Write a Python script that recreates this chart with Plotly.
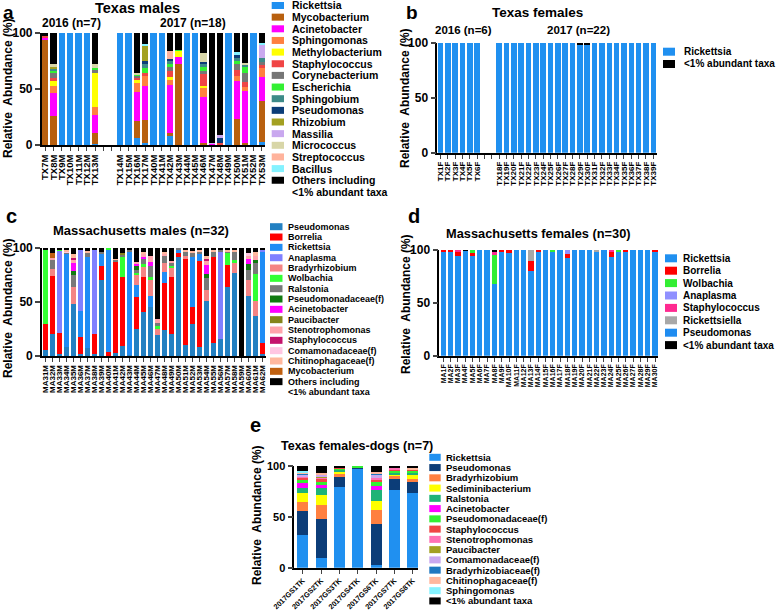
import plotly.graph_objects as go

W, H = 778, 612
FONT = "Liberation Sans, Arial, Helvetica, sans-serif"


def px(x):
    return x / W


def py(y):
    return 1 - y / H


# ---------------- Panel a : Texas males ----------------
a_samples = ["TX7M", "TX8M", "TX9M", "TX10M", "TX11M", "TX12M", "TX13M", "gap1", "gap2",
             "TX14M", "TX15M", "TX16M", "TX17M", "TX40M", "TX41M", "TX42M", "TX43M", "TX44M",
             "TX45M", "TX46M", "TX47M", "TX48M", "TX49M", "TX50M", "TX51M", "TX52M", "TX53M"]
a_rickettsia = [0, 0, 100, 100, 100, 100, 1, 0, 0, 100, 100, 6, 2, 100, 100, 8, 0, 100, 100, 0, 0, 0, 100, 0, 0, 100, 3]
a_mycobacterium = [94, 26, 0, 0, 0, 0, 10, 0, 0, 0, 0, 15, 20, 0, 0, 3, 72, 0, 0, 2, 0, 0, 0, 23, 2, 0, 36]
a_acinetobacter = [2, 20, 0, 0, 0, 0, 16, 0, 0, 0, 0, 26, 31, 0, 0, 43, 7, 0, 0, 41, 1, 0, 0, 34, 46, 0, 22]
a_sphingomonas = [0, 7, 0, 0, 0, 0, 7, 0, 0, 0, 0, 8, 9, 0, 0, 4, 0, 0, 0, 8, 0, 0, 0, 5, 4, 0, 8]
a_methylobacterium = [0, 4, 0, 0, 0, 0, 30, 0, 0, 0, 0, 3, 0, 0, 0, 3, 5, 0, 0, 2, 0, 0, 0, 0, 0, 0, 0]
a_staphylococcus = [1, 3, 0, 0, 0, 0, 0, 0, 0, 0, 0, 2, 2, 0, 0, 5, 0, 0, 0, 10, 0, 2, 0, 5, 4, 0, 2]
a_corynebacterium = [0, 4, 0, 0, 0, 0, 3, 0, 0, 0, 0, 2, 0, 0, 0, 4, 0, 0, 0, 3, 0, 0, 0, 5, 8, 0, 3]
a_escherichia = [0, 2, 0, 0, 0, 0, 2, 0, 0, 0, 0, 1, 5, 0, 0, 2, 1, 0, 0, 4, 0, 0, 0, 3, 6, 0, 0]
a_sphingobium = [0, 2, 0, 0, 0, 0, 0, 0, 0, 0, 0, 0, 3, 0, 0, 3, 0, 0, 0, 2, 0, 0, 0, 3, 2, 0, 4]
a_pseudomonas = [0, 0, 0, 0, 0, 0, 0, 0, 0, 0, 0, 0, 3, 0, 0, 2, 0, 0, 0, 2, 0, 4, 0, 2, 0, 0, 0]
a_rhizobium = [0, 2, 0, 0, 0, 0, 0, 0, 0, 0, 0, 0, 14, 0, 0, 0, 0, 0, 0, 0, 0, 0, 0, 0, 0, 0, 0]
a_massilia = [0, 0, 0, 0, 0, 0, 0, 0, 0, 0, 0, 0, 0, 0, 0, 0, 0, 0, 0, 0, 1, 3, 0, 0, 0, 0, 11]
a_micrococcus = [0, 2, 0, 0, 0, 0, 3, 0, 0, 0, 0, 1, 0, 0, 0, 0, 0, 0, 0, 8, 0, 0, 0, 0, 1, 0, 0]
a_streptococcus = [0, 0, 0, 0, 0, 0, 0, 0, 0, 0, 0, 0, 0, 0, 0, 7, 0, 0, 0, 0, 0, 0, 0, 0, 0, 0, 0]
a_bacillus = [0, 0, 0, 0, 0, 0, 0, 0, 0, 0, 0, 0, 1, 0, 0, 0, 0, 0, 0, 0, 0, 0, 0, 3, 0, 0, 2]
a_others = [3, 28, 0, 0, 0, 0, 28, 0, 0, 0, 0, 36, 10, 0, 0, 16, 15, 0, 0, 18, 98, 91, 0, 17, 27, 0, 9]
a_names = ["Rickettsia", "Mycobacterium", "Acinetobacter", "Sphingomonas", "Methylobacterium",
           "Staphylococcus", "Corynebacterium", "Escherichia", "Sphingobium", "Pseudomonas",
           "Rhizobium", "Massilia", "Micrococcus", "Streptococcus", "Bacillus",
           "Others including<br>&lt;1% abundant taxa"]
a_values = [a_rickettsia, a_mycobacterium, a_acinetobacter, a_sphingomonas, a_methylobacterium,
            a_staphylococcus, a_corynebacterium, a_escherichia, a_sphingobium, a_pseudomonas,
            a_rhizobium, a_massilia, a_micrococcus, a_streptococcus, a_bacillus, a_others]
a_colors = ["#2090f0", "#b8600f", "#ff00ff", "#ff8040", "#ffff00", "#f04545", "#767676",
            "#33f033", "#3d8a88", "#0c3d78", "#a3a021", "#c9a8ef", "#d8d6a8", "#ffb39c",
            "#84f2ff", "#000000"]

# ---------------- Panel b : Texas females ----------------
b_samples = ["TX1F", "TX2F", "TX3F", "TX4F", "TX5F", "TX6F", "gap3", "gap4",
             "TX18F", "TX19F", "TX20F", "TX21F", "TX22F", "TX23F", "TX24F", "TX25F", "TX26F",
             "TX27F", "TX28F", "TX29F", "TX30F", "TX31F", "TX32F", "TX33F", "TX34F", "TX35F",
             "TX36F", "TX37F", "TX38F", "TX39F"]
b_rickettsia = [100, 100, 100, 100, 100, 100, 0, 0, 100, 100, 100, 100, 100, 100, 100, 100, 100,
                100, 100, 99, 99, 100, 100, 100, 100, 100, 100, 100, 100, 100]
b_lowabundant = [0, 0, 0, 0, 0, 0, 0, 0, 0, 0, 0, 0, 0, 0, 0, 0, 0,
                 0, 0, 1, 1, 0, 0, 0, 0, 0, 0, 0, 0, 0]
b_names = ["Rickettsia", "&lt;1% abundant taxa"]
b_values = [b_rickettsia, b_lowabundant]
b_colors = ["#2090f0", "#000000"]

# ---------------- Panel c : Massachusetts males ----------------
c_samples = ["MA31M", "MA32M", "MA33M", "MA34M", "MA35M", "MA36M", "MA37M", "MA38M", "MA39M",
             "MA40M", "MA41M", "MA42M", "MA43M", "MA44M", "MA45M", "MA46M", "MA47M", "MA48M",
             "MA49M", "MA50M", "MA51M", "MA52M", "MA53M", "MA54M", "MA55M", "MA56M", "MA57M",
             "MA58M", "MA59M", "MA60M", "MA61M", "MA62M"]
c_pseudomonas = [6, 20, 2, 8, 48, 2, 7, 2, 70, 0, 3, 9, 1, 25, 41, 45, 19, 24, 20, 92, 10, 30, 8, 51, 12, 16, 64, 77, 0, 56, 37, 2]
c_borrelia = [24, 54, 19, 0, 0, 16, 0, 18, 13, 4, 84, 64, 0, 30, 32, 0, 0, 44, 53, 3, 80, 15, 80, 0, 80, 0, 20, 0, 0, 0, 0, 10]
c_rickettsia = [0, 0, 0, 86, 0, 24, 85, 0, 11, 95, 0, 0, 96, 11, 0, 11, 0, 10, 0, 3, 0, 47, 6, 0, 0, 0, 0, 0, 0, 0, 0, 84]
c_anaplasma = [0, 0, 77, 0, 0, 56, 0, 78, 0, 0, 0, 0, 0, 0, 0, 0, 0, 0, 0, 0, 0, 0, 0, 0, 0, 80, 0, 0, 0, 0, 0, 3]
c_bradyrhizobium = [0, 7, 0, 0, 16, 0, 0, 0, 0, 0, 0, 0, 0, 9, 9, 14, 6, 8, 9, 0, 3, 0, 0, 10, 0, 0, 0, 9, 0, 14, 14, 0]
c_wolbachia = [68, 0, 1, 0, 0, 0, 0, 0, 0, 1, 0, 19, 0, 2, 3, 3, 3, 0, 1, 0, 0, 0, 0, 0, 0, 0, 11, 3, 0, 0, 25, 0]
c_ralstonia = [0, 8, 0, 2, 11, 0, 3, 0, 2, 0, 2, 2, 1, 3, 5, 10, 3, 7, 4, 2, 3, 4, 3, 11, 4, 2, 2, 7, 0, 10, 10, 0]
c_pseudomonadaceae = [0, 0, 0, 0, 4, 0, 0, 0, 0, 0, 0, 0, 0, 3, 0, 0, 0, 0, 0, 0, 0, 0, 0, 4, 0, 0, 0, 0, 0, 5, 3, 0]
c_acinetobacter = [0, 0, 0, 0, 7, 0, 0, 0, 0, 0, 0, 0, 0, 2, 2, 4, 0, 0, 0, 0, 0, 0, 0, 8, 0, 0, 0, 0, 0, 5, 0, 0]
c_paucibacter = [0, 0, 0, 0, 0, 0, 0, 0, 0, 0, 0, 1, 0, 0, 0, 0, 0, 0, 0, 0, 0, 0, 0, 0, 0, 0, 0, 0, 0, 0, 0, 0]
c_stenotrophomonas = [0, 2, 0, 0, 3, 0, 0, 0, 0, 0, 0, 0, 0, 2, 2, 6, 3, 2, 1, 0, 0, 0, 0, 4, 0, 0, 0, 0, 0, 3, 4, 0]
c_staphylococcus = [0, 0, 0, 0, 2, 0, 0, 0, 0, 0, 0, 0, 0, 0, 0, 0, 0, 0, 0, 0, 0, 0, 0, 2, 0, 0, 0, 0, 0, 0, 0, 0]
c_comamonadaceae = [0, 0, 0, 1, 0, 0, 0, 0, 0, 0, 0, 0, 0, 0, 0, 0, 0, 0, 0, 0, 0, 0, 0, 0, 0, 0, 0, 0, 0, 2, 0, 0]
c_chitinophagaceae = [0, 0, 0, 1, 3, 0, 2, 0, 0, 0, 1, 0, 0, 0, 2, 0, 0, 1, 0, 0, 2, 1, 1, 3, 3, 0, 1, 2, 0, 0, 3, 0]
c_mycobacterium = [0, 4, 0, 0, 0, 0, 0, 0, 0, 0, 0, 0, 0, 0, 0, 0, 0, 0, 0, 0, 0, 0, 0, 0, 0, 0, 0, 0, 0, 0, 0, 0]
c_others = [2, 5, 1, 2, 6, 2, 3, 2, 4, 0, 10, 5, 2, 13, 4, 7, 66, 4, 12, 0, 2, 3, 2, 7, 1, 2, 2, 2, 100, 5, 4, 1]
c_names = ["Pseudomonas", "Borrelia", "Rickettsia", "Anaplasma", "Bradyrhizobium", "Wolbachia",
           "Ralstonia", "Pseudomonadaceae(f)", "Acinetobacter", "Paucibacter", "Stenotrophomonas",
           "Staphylococcus", "Comamonadaceae(f)", "Chitinophagaceae(f)", "Mycobacterium",
           "Others including<br>&lt;1% abundant taxa"]
c_values = [c_pseudomonas, c_borrelia, c_rickettsia, c_anaplasma, c_bradyrhizobium, c_wolbachia,
            c_ralstonia, c_pseudomonadaceae, c_acinetobacter, c_paucibacter, c_stenotrophomonas,
            c_staphylococcus, c_comamonadaceae, c_chitinophagaceae, c_mycobacterium, c_others]
c_colors = ["#2380c2", "#ff0000", "#1f8cf5", "#8080ff", "#f48484", "#33ff33", "#787878",
            "#107a10", "#ff00ff", "#85851a", "#ffa5ab", "#c4136c", "#ffc6e2", "#ffb89e",
            "#c0600f", "#000000"]

# ---------------- Panel d : Massachusetts females ----------------
d_samples = ["MA1F", "MA2F", "MA3F", "MA4F", "MA5F", "MA6F", "MA7F", "MA8F", "MA9F", "MA10F",
             "MA11F", "MA12F", "MA13F", "MA14F", "MA15F", "MA16F", "MA17F", "MA18F", "MA19F",
             "MA20F", "MA21F", "MA22F", "MA23F", "MA24F", "MA25F", "MA26F", "MA27F", "MA28F",
             "MA29F", "MA30F"]
d_rickettsia = [98.5, 98, 94, 99.5, 94, 100, 100, 68, 98, 97.5, 100, 100, 80, 99, 100, 98, 100, 92,
                100, 100, 100, 98, 100, 93, 99, 98, 100, 100, 100, 98.5]
d_borrelia = [1.5, 2, 5, 0, 3, 0, 0, 0, 2, 2.5, 0, 0, 10, 1, 0, 0, 0, 4,
              0, 0, 0, 0, 0, 5, 0, 2, 0, 0, 0, 1.5]
d_wolbachia = [0, 0, 0, 0, 3, 0, 0, 27, 0, 0, 0, 0, 0, 0, 0, 2, 0, 0,
               0, 0, 0, 0, 0, 0, 1, 0, 0, 0, 0, 0]
d_anaplasma = [0, 0, 0, 0, 0, 0, 0, 0, 0, 0, 0, 0, 0, 0, 0, 0, 0, 4,
               0, 0, 0, 0, 0, 0, 0, 0, 0, 0, 0, 0]
d_staphylococcus = [0, 0, 1, 0, 0, 0, 0, 4, 0, 0, 0, 0, 0, 0, 0, 0, 0, 0,
                    0, 0, 0, 0, 0, 2, 0, 0, 0, 0, 0, 0]
d_rickettsiella = [0, 0, 0, 0, 0, 0, 0, 0, 0, 0, 0, 0, 10, 0, 0, 0, 0, 0,
                   0, 0, 0, 2, 0, 0, 0, 0, 0, 0, 0, 0]
d_pseudomonas = [0, 0, 0, 0, 0, 0, 0, 0, 0, 0, 0, 0, 0, 0, 0, 0, 0, 0,
                 0, 0, 0, 0, 0, 0, 0, 0, 0, 0, 0, 0]
d_lowabundant = [0, 0, 0, 0.5, 0, 0, 0, 1, 0, 0, 0, 0, 0, 0, 0, 0, 0, 0,
                 0, 0, 0, 0, 0, 0, 0, 0, 0, 0, 0, 0]
d_names = ["Rickettsia", "Borrelia", "Wolbachia", "Anaplasma", "Staphylococcus", "Rickettsiella",
           "Pseudomonas", "&lt;1% abundant taxa"]
d_values = [d_rickettsia, d_borrelia, d_wolbachia, d_anaplasma, d_staphylococcus, d_rickettsiella,
            d_pseudomonas, d_lowabundant]
d_colors = ["#2090f0", "#ff0000", "#33ee33", "#9090ff", "#ff2a90", "#a8a8a8", "#1f8cf0", "#000000"]

# ---------------- Panel e : Texas females-dogs ----------------
e_samples = ["2017GS1TK", "2017GS2TK", "2017GS3TK", "2017GS4TK", "2017GS6TK", "2017GS7TK", "2017GS8TK"]
e_rickettsia = [32, 10, 79, 98, 3, 76, 73]
e_pseudomonas = [24, 38, 10, 1, 40, 11, 11]
e_bradyrhizobium = [8, 13, 3, 0, 14, 3, 3]
e_sediminibacterium = [9, 10, 3, 0, 8, 2, 4]
e_ralstonia = [5, 7, 1, 0, 11, 1, 2]
e_acinetobacter = [5, 3, 0, 0, 4, 0, 0]
e_pseudomonadaceae = [3, 3, 2, 1, 4, 2, 3]
e_staphylococcus = [2, 3, 1, 0, 2, 2, 1]
e_stenotrophomonas = [2, 2, 0, 0, 2, 1, 0]
e_paucibacter = [0, 1, 0, 0, 0, 0, 0]
e_comamonadaceae = [1, 1, 0, 0, 3, 0, 0]
e_bradyrhizobiaceae = [2, 0, 0, 0, 2, 0, 0]
e_chitinophagaceae = [1, 2, 0, 0, 1, 0, 1]
e_sphingomonas = [1, 0, 0, 0, 0, 0, 0]
e_lowabundant = [5, 7, 1, 0, 6, 2, 2]
e_names = ["Rickettsia", "Pseudomonas", "Bradyrhizobium", "Sediminibacterium", "Ralstonia",
           "Acinetobacter", "Pseudomonadaceae(f)", "Staphylococcus", "Stenotrophomonas",
           "Paucibacter", "Comamonadaceae(f)", "Bradyrhizobiaceae(f)", "Chitinophagaceae(f)",
           "Sphingomonas", "&lt;1% abundant taxa"]
e_values = [e_rickettsia, e_pseudomonas, e_bradyrhizobium, e_sediminibacterium, e_ralstonia,
            e_acinetobacter, e_pseudomonadaceae, e_staphylococcus, e_stenotrophomonas,
            e_paucibacter, e_comamonadaceae, e_bradyrhizobiaceae, e_chitinophagaceae,
            e_sphingomonas, e_lowabundant]
e_colors = ["#2090f0", "#0c3d78", "#ff8040", "#ffff00", "#1fb377", "#ff00ff", "#33f033",
            "#f04545", "#ff70b4", "#a3a021", "#c9a8ef", "#1f78c0", "#ffb89e", "#84f2ff", "#000000"]

# ---------------- Layout geometry (pixels) ----------------
panels = [
    dict(ax="", samples=a_samples, names=a_names, values=a_values, colors=a_colors,
         x0=41.7, x1=265, yt=33, yb=145, rng=[-0.43, 26.4], bw=0.76, tf=9.5, ta=-90, ytf=12),
    dict(ax="2", samples=b_samples, names=b_names, values=b_values, colors=b_colors,
         x0=437.3, x1=656.7, yt=42.7, yb=152.7, rng=[-0.44, 29.46], bw=0.76, tf=8, ta=-90, ytf=12),
    dict(ax="3", samples=c_samples, names=c_names, values=c_values, colors=c_colors,
         x0=42, x1=266, yt=248, yb=356, rng=[-0.55, 31.45], bw=0.72, tf=8, ta=-90, ytf=12),
    dict(ax="4", samples=d_samples, names=d_names, values=d_values, colors=d_colors,
         x0=439.3, x1=658.3, yt=250, yb=355.7, rng=[-0.55, 29.45], bw=0.72, tf=7, ta=-90, ytf=12),
    dict(ax="5", samples=e_samples, names=e_names, values=e_values, colors=e_colors,
         x0=294.3, x1=418, yt=465.7, yb=567.7, rng=[-0.46, 6.29], bw=0.6, tf=7.3, ta=-45, ytf=11),
]

fig = go.Figure()
layout = dict(width=W, height=H, autosize=False, margin=dict(l=0, r=0, t=0, b=0, pad=0),
              barmode="stack", paper_bgcolor="white", plot_bgcolor="white", showlegend=False,
              font=dict(family=FONT, color="black", weight="bold"))

for p in panels:
    ax = p["ax"]
    for name, vals, col in zip(p["names"], p["values"], p["colors"]):
        fig.add_trace(go.Bar(x=p["samples"], y=vals, name=name.replace("<br>", " "),
                             marker=dict(color=col, line=dict(width=0)), width=p["bw"],
                             xaxis="x" + ax, yaxis="y" + ax, showlegend=False))
    ticktext = ["" if s.startswith("gap") else s for s in p["samples"]]
    layout["xaxis" + ax] = dict(domain=[px(p["x0"]), px(p["x1"])], anchor="y" + ax,
                                type="category", categoryorder="array", categoryarray=p["samples"],
                                range=p["rng"], tickmode="array", tickvals=p["samples"],
                                ticktext=ticktext, tickangle=p["ta"], ticks="outside", ticklen=4,
                                tickwidth=1.2, showline=True, linewidth=1.6, linecolor="black",
                                showgrid=False, zeroline=False, automargin=False,
                                tickfont=dict(size=p["tf"], family=FONT, weight="bold", color="black"))
    layout["yaxis" + ax] = dict(domain=[py(p["yb"]), py(p["yt"])], anchor="x" + ax,
                                range=[0, 100], tickvals=[0, 50, 100], ticks="outside", ticklen=5,
                                tickwidth=1.6, showline=True, linewidth=1.6, linecolor="black",
                                showgrid=False, zeroline=False, automargin=False,
                                tickfont=dict(size=p["ytf"], family=FONT, weight="bold", color="black"))

annotations = []
shapes = []


def text(x, y, s, size, anchor="center", angle=0, yanchor="middle"):
    annotations.append(dict(x=px(x), y=py(y), xref="paper", yref="paper", text=s,
                            showarrow=False, xanchor=anchor, yanchor=yanchor, textangle=angle,
                            font=dict(size=size, family=FONT, weight="bold", color="black")))


# panel letters
text(8.5, 0, "a", 19, yanchor="top")
text(412, 0, "b", 19, yanchor="top")
text(11, 216, "c", 20)
text(414, 216, "d", 20)
text(255, 425, "e", 20)

# titles
text(137, 8, "Texas males", 14.5)
text(71, 23, "2016 (n=7)", 12)
text(193, 23, "2017 (n=18)", 12)
text(537.5, 12, "Texas females", 13.5)
text(463, 30, "2016 (n=6)", 11.5)
text(578, 30, "2017 (n=22)", 11.5)
text(141, 230, "Massachusetts males (n=32)", 13)
text(538, 234, "Massachusetts females (n=30)", 12.8)
text(357, 446, "Texas females-dogs (n=7)", 12.5)

# y-axis titles
YT = "Relative\u00a0 Abundance (%)"
text(8, 88, YT, 12, angle=-90)
text(405, 98, YT, 12, angle=-90)
text(8, 308, YT, 12, angle=-90)
text(406, 304, YT, 12, angle=-90)
text(257, 515, YT, 12, angle=-90)


def add_legend(names, colors, x_sw, y0, sp, sw_w, sw_h, x_txt, fsize):
    row = 0
    for name, col in zip(names, colors):
        yc = y0 + row * sp
        shapes.append(dict(type="rect", xref="paper", yref="paper",
                           x0=px(x_sw), x1=px(x_sw + sw_w), y0=py(yc + sw_h / 2), y1=py(yc - sw_h / 2),
                           fillcolor=col, line=dict(width=0)))
        lines = name.split("<br>")
        for j, line in enumerate(lines):
            annotations.append(dict(x=px(x_txt), y=py(yc + j * sp), xref="paper", yref="paper",
                                    text=line, showarrow=False, xanchor="left", yanchor="middle",
                                    font=dict(size=fsize, family=FONT, weight="bold", color="black")))
        row += len(lines)


add_legend(a_names, a_colors, 271.7, 5.5, 11.65, 12.3, 7, 289.5, 10.5)
add_legend(b_names, b_colors, 663, 51.7, 12.3, 12, 8, 681.5, 10)
add_legend(c_names, c_colors, 270, 226.7, 10.33, 12.5, 7, 285.5, 9)
add_legend(d_names, d_colors, 665, 258.3, 12.4, 12, 8, 680.5, 10)
add_legend(e_names, e_colors, 429.3, 457.3, 10.26, 11.4, 7, 444.5, 9.5)

layout["annotations"] = annotations
layout["shapes"] = shapes
fig.update_layout(**layout)

fig.write_html("out.html", config={"displayModeBar": False},
               post_script="document.body.style.margin='0';document.body.style.overflow='hidden';")
